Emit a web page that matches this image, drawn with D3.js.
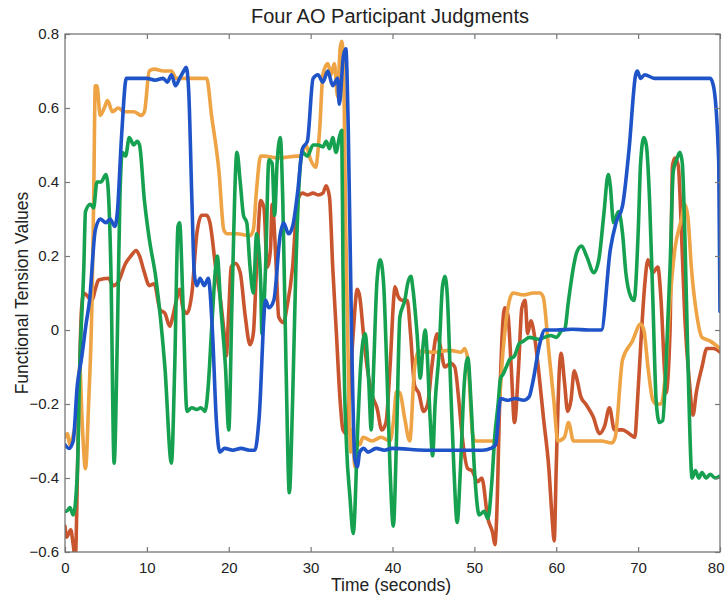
<!DOCTYPE html>
<html><head><meta charset="utf-8">
<script src="https://cdn.jsdelivr.net/npm/d3@7"></script>
<style>
body{margin:0;background:#fff;}
svg{display:block;}
text{font-family:"Liberation Sans",Arial,Helvetica,sans-serif;fill:#222;}
</style></head>
<body>
<svg id="chart" width="726" height="601"></svg>
<script>
const title = "Four AO Participant Judgments";
const xLabel = "Time (seconds)";
const yLabel = "Functional Tension Values";
const xTicks = [0,10,20,30,40,50,60,70,80];
const yTicks = [-0.6,-0.4,-0.2,0,0.2,0.4,0.6,0.8];

const redSeries = [[0,-0.53],[0.2,-0.56],[0.7,-0.54],[1.0,-0.58],[1.25,-0.62],[1.6,-0.3],[2.0,0.05],[2.3,0.1],[2.6,0.095],[3.3,0.08],[3.7,0.11],[4.1,0.135],[5.3,0.14],[5.9,0.12],[6.5,0.13],[7.4,0.18],[8.05,0.2],[8.7,0.215],[9.1,0.2],[9.7,0.155],[10.3,0.12],[10.9,0.125],[11.6,0.055],[12.2,0.045],[12.8,0.01],[13.2,0.04],[13.6,0.08],[14.0,0.11],[14.4,0.06],[14.9,0.045],[15.5,0.1],[16.1,0.26],[16.7,0.31],[17.3,0.31],[17.7,0.29],[18.4,0.17],[19.0,0.08],[19.4,0.0],[19.7,-0.07],[20.0,0.05],[20.3,0.17],[20.8,0.18],[21.4,0.155],[22.0,0.04],[22.6,-0.04],[23.0,-0.01],[23.4,0.17],[23.9,0.35],[24.3,0.33],[24.7,0.17],[25.1,0.22],[25.3,0.34],[25.8,0.17],[26.1,0.035],[26.7,0.02],[27.1,0.06],[27.8,0.17],[28.4,0.35],[29.0,0.37],[29.6,0.365],[30.3,0.37],[30.9,0.365],[31.5,0.37],[31.9,0.39],[32.3,0.36],[32.7,0.17],[33.15,-0.01],[33.6,-0.19],[33.95,-0.27],[34.4,-0.28],[34.7,-0.19],[35.2,-0.01],[35.7,0.11],[36.0,0.09],[36.45,-0.01],[36.9,-0.1],[37.5,-0.175],[38.1,-0.21],[38.7,-0.27],[39.2,-0.25],[39.7,-0.1],[40.2,0.1],[40.3,0.117],[40.7,0.09],[41.2,0.08],[41.8,0.08],[42.2,-0.01],[42.7,-0.15],[43.2,-0.17],[43.8,-0.22],[44.3,-0.2],[44.8,-0.1],[45.45,-0.01],[45.8,-0.04],[46.4,-0.1],[47.1,-0.09],[47.6,-0.1],[48.1,-0.19],[48.5,-0.285],[49.2,-0.375],[49.7,-0.38],[50.4,-0.41],[50.9,-0.4],[51.65,-0.51],[52.25,-0.55],[52.5,-0.58],[52.7,-0.52],[53.1,-0.19],[53.4,-0.01],[53.7,0.06],[54.1,0.04],[54.5,-0.1],[54.9,-0.25],[55.4,-0.1],[55.8,0.06],[56.2,0.08],[56.5,-0.01],[56.9,0.025],[57.3,-0.01],[57.8,-0.1],[58.45,-0.24],[59.1,-0.375],[59.5,-0.51],[59.75,-0.57],[60.0,-0.37],[60.4,-0.1],[60.6,-0.063],[61.0,-0.14],[61.4,-0.22],[61.8,-0.19],[62.2,-0.11],[62.6,-0.14],[63.0,-0.18],[63.6,-0.2],[64.5,-0.234],[65.3,-0.28],[65.9,-0.26],[66.5,-0.21],[67.1,-0.27],[68.1,-0.27],[68.9,-0.28],[69.6,-0.29],[69.9,-0.2],[70.4,-0.01],[70.8,0.12],[71.2,0.19],[71.8,0.155],[72.4,0.17],[72.8,0.08],[73.2,-0.1],[73.4,-0.17],[73.9,0.0],[74.2,0.445],[74.5,0.465],[74.9,0.445],[75.3,0.26],[75.7,0.035],[76.3,-0.15],[76.7,-0.23],[77.1,-0.17],[77.8,-0.1],[78.4,-0.05],[79.2,-0.05],[80,-0.06]];

const orangeSeries = [[0,-0.29],[0.3,-0.28],[0.6,-0.31],[1.0,-0.285],[1.3,-0.25],[1.7,-0.13],[1.8,-0.1],[2.1,-0.25],[2.5,-0.375],[2.9,-0.19],[3.3,0.08],[3.5,0.35],[3.7,0.66],[3.9,0.66],[4.3,0.58],[4.8,0.6],[5.2,0.62],[5.8,0.59],[6.5,0.6],[7.2,0.59],[8.4,0.59],[9.3,0.58],[9.7,0.59],[10.3,0.7],[10.9,0.705],[12.0,0.7],[13.0,0.7],[13.6,0.68],[15.5,0.68],[17.3,0.68],[17.9,0.58],[18.8,0.43],[19.4,0.27],[19.8,0.26],[21.0,0.26],[22.6,0.255],[23.0,0.27],[23.4,0.38],[23.9,0.47],[24.3,0.47],[26.0,0.465],[28.4,0.47],[28.8,0.47],[29.4,0.5],[30.0,0.46],[30.6,0.44],[31.1,0.54],[31.5,0.69],[32.1,0.72],[32.5,0.69],[32.9,0.72],[33.3,0.63],[33.6,0.76],[33.8,0.78],[34.0,0.73],[34.3,0.26],[34.6,-0.1],[34.9,-0.33],[35.1,-0.27],[35.4,-0.37],[35.7,-0.3],[36.0,-0.31],[36.4,-0.29],[37.5,-0.3],[38.6,-0.29],[39.7,-0.3],[40.1,-0.25],[40.5,-0.166],[40.9,-0.17],[41.5,-0.24],[42.1,-0.3],[42.7,-0.1],[43.2,-0.057],[45.0,-0.06],[47.0,-0.055],[48.4,-0.06],[48.8,-0.05],[49.2,-0.08],[49.8,-0.285],[50.1,-0.3],[51.5,-0.3],[52.5,-0.3],[52.9,-0.24],[53.5,-0.057],[54.1,0.06],[54.7,0.1],[56.0,0.095],[57.2,0.1],[58.0,0.1],[58.4,0.09],[59.1,-0.06],[59.7,-0.19],[60.2,-0.3],[61.0,-0.29],[61.5,-0.25],[62.1,-0.3],[64.0,-0.3],[65.5,-0.3],[66.8,-0.305],[67.2,-0.29],[68.1,-0.08],[69.3,-0.03],[70.3,0.016],[70.7,0.0],[71.2,-0.1],[71.8,-0.19],[72.2,-0.2],[72.8,-0.2],[73.4,-0.1],[73.9,0.08],[74.5,0.22],[75.3,0.3],[75.7,0.34],[76.1,0.3],[76.5,0.17],[77.2,0.035],[77.8,-0.02],[78.8,-0.03],[80,-0.05]];

const greenSeries = [[0,-0.49],[0.2,-0.49],[0.6,-0.48],[1.0,-0.5],[1.5,-0.39],[1.8,-0.1],[2.3,0.17],[2.5,0.32],[3.1,0.34],[3.5,0.33],[3.9,0.4],[4.4,0.4],[5.0,0.42],[5.2,0.4],[5.6,0.17],[6.0,-0.36],[6.4,-0.01],[6.7,0.35],[7.0,0.48],[7.4,0.47],[7.85,0.52],[8.4,0.5],[8.8,0.51],[9.1,0.5],[9.7,0.35],[10.3,0.245],[11.1,0.14],[12.2,-0.1],[13.0,-0.36],[13.4,-0.1],[13.8,0.28],[14.0,0.29],[14.4,0.08],[14.9,-0.22],[15.5,-0.21],[16.1,-0.215],[16.6,-0.21],[17.1,-0.22],[17.5,-0.15],[17.9,0.0],[18.4,0.17],[18.6,0.2],[19.0,0.07],[19.6,-0.1],[20.0,-0.27],[20.4,0.08],[21.0,0.48],[21.4,0.4],[21.8,0.31],[22.2,0.29],[22.6,0.17],[23.0,0.1],[23.4,0.26],[23.9,0.13],[24.05,-0.01],[24.5,0.17],[24.9,0.46],[25.3,0.45],[25.6,0.31],[25.9,0.45],[26.3,0.52],[26.6,0.35],[27.0,-0.1],[27.4,-0.44],[27.8,-0.19],[28.2,0.17],[28.6,0.4],[29.0,0.48],[29.6,0.47],[30.3,0.5],[30.9,0.5],[31.5,0.495],[31.9,0.51],[32.3,0.49],[32.7,0.52],[33.1,0.48],[33.5,0.52],[33.8,0.54],[33.95,0.17],[34.1,-0.1],[34.4,-0.32],[34.8,-0.45],[35.2,-0.55],[35.8,-0.24],[36.1,-0.1],[36.65,-0.01],[37.1,-0.14],[37.4,-0.27],[37.7,-0.1],[38.1,0.13],[38.5,0.19],[38.9,0.13],[39.3,-0.1],[39.7,-0.375],[40.1,-0.53],[40.5,-0.285],[40.9,0.035],[41.5,0.08],[41.9,0.13],[42.25,0.145],[42.5,0.11],[43.0,-0.01],[43.4,-0.13],[43.7,-0.05],[44.0,0.0],[44.2,-0.05],[44.6,-0.24],[44.9,-0.34],[45.2,-0.2],[45.7,-0.057],[46.1,0.117],[46.4,0.145],[46.7,0.09],[47.1,-0.15],[47.5,-0.375],[47.9,-0.52],[48.3,-0.375],[48.75,-0.15],[49.2,-0.075],[49.6,-0.2],[50.0,-0.375],[50.6,-0.5],[51.2,-0.49],[51.65,-0.51],[52.1,-0.42],[52.5,-0.285],[52.9,-0.2],[53.2,-0.13],[53.5,-0.12],[53.9,-0.1],[54.3,-0.08],[54.9,-0.07],[55.5,-0.036],[56.0,-0.03],[56.7,-0.02],[57.8,-0.025],[59.3,-0.015],[60.0,-0.02],[60.8,0.0],[61.0,0.0],[61.5,0.08],[62.1,0.17],[62.5,0.21],[63.1,0.227],[63.7,0.2],[64.6,0.155],[65.2,0.19],[65.8,0.31],[66.35,0.42],[66.6,0.39],[67.0,0.29],[67.6,0.32],[68.1,0.26],[68.5,0.155],[69.1,0.09],[69.5,0.08],[70.0,0.26],[70.3,0.45],[70.7,0.52],[71.0,0.5],[71.4,0.35],[71.8,0.08],[72.2,-0.19],[72.6,-0.25],[73.0,-0.245],[73.4,-0.1],[73.9,0.17],[74.3,0.43],[74.7,0.46],[75.1,0.48],[75.4,0.45],[75.7,0.26],[76.1,-0.1],[76.6,-0.4],[77.0,-0.38],[77.4,-0.4],[77.8,-0.385],[78.3,-0.4],[78.8,-0.39],[79.4,-0.4],[80,-0.395]];

const blueSeries = [[0,-0.31],[0.5,-0.32],[1.0,-0.3],[1.5,-0.15],[2.0,-0.08],[2.6,0.02],[3.0,0.08],[3.7,0.27],[4.3,0.3],[5.0,0.29],[5.5,0.3],[6.1,0.28],[6.4,0.32],[6.9,0.52],[7.5,0.68],[8.5,0.68],[10,0.68],[11,0.675],[12,0.68],[12.5,0.67],[13,0.69],[13.5,0.66],[14,0.68],[14.5,0.7],[14.8,0.71],[15.1,0.65],[15.5,0.35],[15.8,0.15],[16.1,0.12],[16.5,0.14],[17.0,0.12],[17.5,0.14],[18.0,0.0],[18.5,-0.25],[18.9,-0.33],[19.5,-0.32],[20.5,-0.325],[21.5,-0.32],[22.5,-0.325],[23.2,-0.325],[23.7,-0.24],[24.5,0.08],[24.9,0.06],[25.5,0.08],[26.3,0.26],[26.7,0.29],[27.3,0.26],[27.8,0.28],[28.4,0.37],[29.0,0.49],[29.6,0.51],[30.3,0.68],[30.9,0.69],[31.5,0.67],[32.1,0.7],[32.7,0.66],[33.3,0.68],[33.5,0.61],[34.0,0.74],[34.3,0.76],[34.6,0.54],[35.0,-0.01],[35.4,-0.35],[35.7,-0.37],[36.0,-0.33],[36.5,-0.32],[37.0,-0.33],[38.0,-0.32],[39.0,-0.325],[40.0,-0.32],[44.0,-0.325],[48.0,-0.325],[51.0,-0.325],[52.0,-0.32],[52.6,-0.31],[53.2,-0.185],[54.0,-0.19],[55.0,-0.185],[56.0,-0.19],[56.7,-0.18],[57.1,-0.145],[58.0,-0.036],[58.6,0.0],[60.0,0.0],[62.0,0.002],[64.0,0.0],[65.5,0.0],[66.6,0.217],[67.3,0.29],[68.1,0.336],[68.9,0.49],[69.7,0.69],[69.9,0.7],[70.3,0.68],[70.8,0.69],[72,0.68],[74,0.68],[76,0.68],[78.8,0.68],[79.2,0.66],[79.85,0.45],[80,0.05]];

const seriesList = [
  {name:"P1", data:redSeries, color:"#c9552f"},
  {name:"P2", data:orangeSeries, color:"#eea344"},
  {name:"P3", data:greenSeries, color:"#16a150"},
  {name:"P4", data:blueSeries, color:"#1f54c9"}
];

const svg = d3.select("#chart");
const m = {left:65, right:6, top:34, bottom:49};
const W = 726, H = 601;
const x = d3.scaleLinear().domain([0,80]).range([m.left, W-m.right]);
const y = d3.scaleLinear().domain([-0.6,0.8]).range([H-m.bottom, m.top]);

svg.append("defs").append("clipPath").attr("id","clip")
  .append("rect").attr("x",x(0)).attr("y",y(0.8)).attr("width",x(80)-x(0)).attr("height",y(-0.6)-y(0.8));

const line = d3.line().x(d=>x(d[0])).y(d=>y(d[1])).curve(d3.curveMonotoneX);
const g = svg.append("g").attr("clip-path","url(#clip)");
seriesList.forEach(s=>{
  g.append("path").datum(s.data).attr("d",line)
   .attr("fill","none").attr("stroke",s.color).attr("stroke-width",3.6)
   .attr("stroke-linejoin","round").attr("stroke-linecap","round");
});

const axColor = "#777";
function styleAxis(sel, labels){
  sel.select(".domain").remove();
  sel.selectAll(".tick line").attr("stroke",axColor).attr("stroke-width",1.2);
  if(!labels) sel.selectAll(".tick text").remove();
  else sel.selectAll(".tick text").attr("font-size",15).attr("fill","#222");
}
const fmt = d=> d===0 ? "0" : d3.format(".1f")(d);
svg.append("g").attr("transform",`translate(0,${y(-0.6)})`)
  .call(d3.axisBottom(x).tickValues(xTicks).tickSize(-5).tickPadding(10).tickFormat(d3.format("d")))
  .call(s=>styleAxis(s,true))
  .call(s=>s.selectAll(".tick text").filter(d=>d===80).attr("text-anchor","end").attr("dx","4"));
svg.append("g").attr("transform",`translate(0,${y(0.8)})`)
  .call(d3.axisTop(x).tickValues(xTicks).tickSize(-5))
  .call(s=>styleAxis(s,false));
svg.append("g").attr("transform",`translate(${x(0)},0)`)
  .call(d3.axisLeft(y).tickValues(yTicks).tickSize(-5).tickPadding(6).tickFormat(fmt))
  .call(s=>styleAxis(s,true));
svg.append("g").attr("transform",`translate(${x(80)},0)`)
  .call(d3.axisRight(y).tickValues(yTicks).tickSize(-5))
  .call(s=>styleAxis(s,false));

svg.append("rect").attr("x",x(0)).attr("y",y(0.8)).attr("width",x(80)-x(0)).attr("height",y(-0.6)-y(0.8))
  .attr("fill","none").attr("stroke",axColor).attr("stroke-width",1.3);

svg.append("text").attr("x",390).attr("y",23).attr("text-anchor","middle")
  .attr("font-size",20).text(title);
svg.append("text").attr("x",391).attr("y",591).attr("text-anchor","middle")
  .attr("font-size",17.5).text(xLabel);
svg.append("text").attr("transform",`translate(28,${(y(0.8)+y(-0.6))/2}) rotate(-90)`)
  .attr("text-anchor","middle").attr("font-size",17.5).text(yLabel);
</script>
</body></html>
